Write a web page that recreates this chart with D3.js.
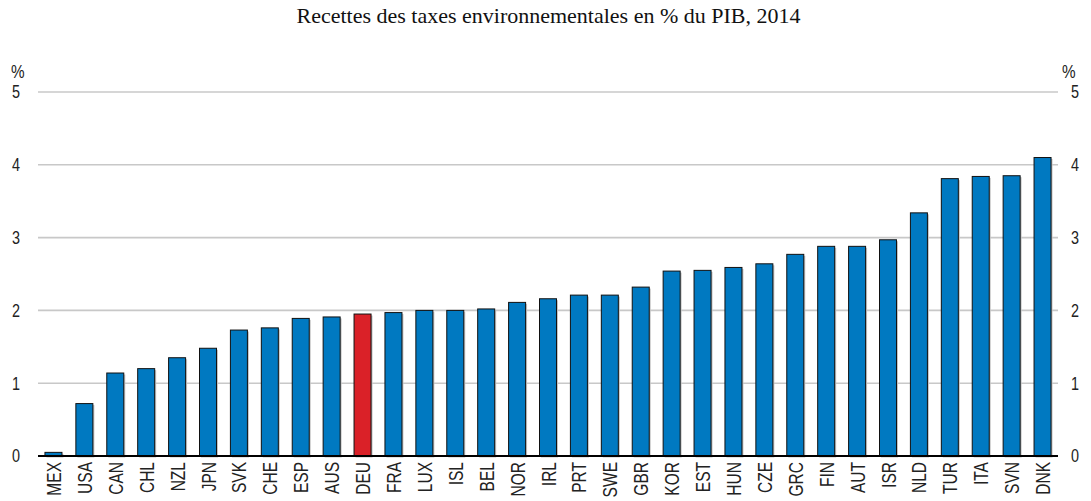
<!DOCTYPE html>
<html><head><meta charset="utf-8">
<script src="https://cdn.jsdelivr.net/npm/d3@7"></script>
<style>
body{margin:0;background:#fff;}
text{font-family:"Liberation Sans Narrow","Arial Narrow","Liberation Sans",sans-serif;}
</style></head>
<body><svg id="c" width="1091" height="501"></svg>
<script>
const countries = ["MEX","USA","CAN","CHL","NZL","JPN","SVK","CHE","ESP","AUS","DEU","FRA","LUX","ISL","BEL","NOR","IRL","PRT","SWE","GBR","KOR","EST","HUN","CZE","GRC","FIN","AUT","ISR","NLD","TUR","ITA","SVN","DNK"];
const values = [0.05,0.72,1.14,1.20,1.35,1.48,1.73,1.76,1.89,1.91,1.95,1.97,2.00,2.00,2.02,2.11,2.16,2.21,2.21,2.32,2.54,2.55,2.59,2.64,2.77,2.88,2.88,2.97,3.34,3.81,3.84,3.85,4.10];
const highlight = ["DEU"];
const yTicks = [0,1,2,3,4,5];
const title = "Recettes des taxes environnementales en % du PIB, 2014";
const unit = "%";

const svg = d3.select("#c");
const L = 38, R = 1058, T = 92, B = 456;
const x = d3.scaleBand().domain(countries).range([L, R]).paddingInner(0.45).paddingOuter(0.225);
const y = d3.scaleLinear().domain([0,5]).range([B, T]);

svg.append("text").attr("x",548.5).attr("y",23).attr("text-anchor","middle")
  .style("font-family","'Liberation Serif','Times New Roman',serif").style("font-size","22px").attr("fill","#111").text(title);

// gridlines
svg.append("g").selectAll("line").data(yTicks.filter(d=>d>0)).join("line")
  .attr("x1",L).attr("x2",R).attr("y1",d=>y(d)).attr("y2",d=>y(d))
  .attr("stroke","#c8c8c8").attr("stroke-width",1.6);

// y tick labels (condensed)
function yLabels(xPos, anchor){
  const g = svg.append("g");
  g.selectAll("g").data(yTicks).join("g")
    .attr("transform",d=>`translate(${xPos},${y(d)})`)
    .append("text").attr("transform","scale(0.8,1)").attr("dy","0.36em")
    .attr("text-anchor",anchor).style("font-size","18px").attr("fill","#222")
    .text(d3.format("d"));
}
yLabels(20,"end");
yLabels(1071,"start");

svg.append("g").attr("transform","translate(11,78)").append("text").attr("transform","scale(0.85,1)")
  .style("font-size","18px").attr("fill","#222").text(unit);
svg.append("g").attr("transform","translate(1062,78)").append("text").attr("transform","scale(0.85,1)")
  .style("font-size","18px").attr("fill","#222").text(unit);

// bars: shadow then bar
const data = countries.map((c,i)=>({c, v:values[i]}));
svg.append("g").selectAll("rect").data(data).join("rect")
  .attr("x",d=>x(d.c)+1.5).attr("y",d=>y(d.v)+1.5)
  .attr("width",x.bandwidth()).attr("height",d=>B-y(d.v))
  .attr("fill","#c4c4c4");
svg.append("g").selectAll("rect").data(data).join("rect")
  .attr("x",d=>x(d.c)).attr("y",d=>y(d.v))
  .attr("width",x.bandwidth()).attr("height",d=>B-y(d.v))
  .attr("fill",d=>highlight.includes(d.c)?"#da2128":"#0079c1")
  .attr("stroke","#111").attr("stroke-width",1);

// baseline
svg.append("line").attr("x1",L).attr("x2",R).attr("y1",B).attr("y2",B)
  .attr("stroke","#000").attr("stroke-width",2);

// x labels (rotated, condensed)
const gx = svg.append("g");
gx.selectAll("g").data(countries).join("g")
  .attr("transform",d=>`translate(${x(d)+x.bandwidth()/2},${B+6}) rotate(-90)`)
  .append("text").attr("transform","scale(0.74,1)").attr("dy","0.36em")
  .attr("text-anchor","end").style("font-size","21px").attr("fill","#222")
  .text(d=>d);
</script></body></html>
